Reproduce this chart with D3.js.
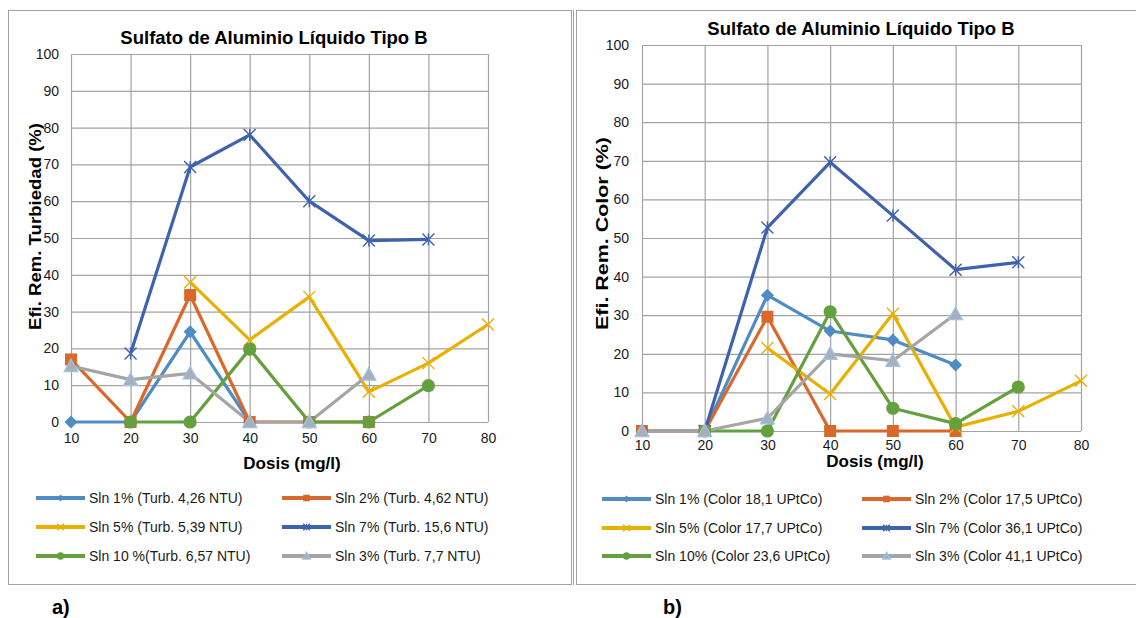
<!DOCTYPE html>
<html>
<head>
<meta charset="utf-8">
<script src="https://cdn.jsdelivr.net/npm/d3@7"></script>
<style>
  html, body { margin: 0; padding: 0; background: #fff; }
  svg { display: block; font-family: "Liberation Sans", Arial, sans-serif; }
</style>
</head>
<body>
<svg id="chart" width="1136" height="618"></svg>
<script>
// ---------- DATA ----------
const doses = [10, 20, 30, 40, 50, 60, 70, 80];
const yTicks = [0, 10, 20, 30, 40, 50, 60, 70, 80, 90, 100];
const chartTitle = "Sulfato de Aluminio Líquido Tipo B";
const xTitle = "Dosis (mg/l)";
const yTitleTurb = "Efi. Rem. Turbiedad (%)";
const yTitleColor = "Efi. Rem. Color (%)";

const seriesKeys = ["sln1", "sln2", "sln5", "sln7", "sln10", "sln3"];
const legendTurb = ["Sln 1% (Turb. 4,26 NTU)", "Sln 2% (Turb. 4,62 NTU)", "Sln 5% (Turb. 5,39 NTU)",
                    "Sln 7% (Turb. 15,6 NTU)", "Sln 10 %(Turb. 6,57 NTU)", "Sln 3% (Turb. 7,7 NTU)"];
const legendColor = ["Sln 1% (Color 18,1 UPtCo)", "Sln 2% (Color 17,5 UPtCo)", "Sln 5% (Color 17,7 UPtCo)",
                     "Sln 7% (Color 36,1 UPtCo)", "Sln 10% (Color 23,6 UPtCo)", "Sln 3% (Color 41,1 UPtCo)"];

// Turbidity removal (%) per dose 10..80 (null = no point)
const turbSln1  = [0, 0, 24.5, 0, null, null, null, null];
const turbSln2  = [17, 0, 34.5, 0, 0, 0, null, null];
const turbSln5  = [null, null, 38, 22.3, 34, 8.2, 16, 26.5];
const turbSln7  = [null, 18.6, 69.3, 78, 60, 49.3, 49.6, null];
const turbSln10 = [null, 0, 0, 19.8, 0, 0, 9.9, null];
const turbSln3  = [15.2, 11.5, 13.2, 0, 0, 12.9, null, null];

// Colour removal (%) per dose 10..80
const colorSln1  = [0, 0, 35.2, 25.9, 23.6, 17.1, null, null];
const colorSln2  = [0, 0, 29.6, 0, 0, 0, null, null];
const colorSln5  = [null, null, 21.5, 9.6, 30.4, 1.0, 5.1, 13];
const colorSln7  = [null, 0, 52.7, 69.6, 55.8, 41.8, 43.7, null];
const colorSln10 = [null, 0, 0, 30.9, 5.9, 1.9, 11.4, null];
const colorSln3  = [0, 0, 3.3, 20, 18.2, 30.3, null, null];

// ---------- STYLE ----------
const styles = {
  sln1:  { color: "#4F8CC6", marker: "diamond" },
  sln2:  { color: "#D8692B", marker: "square" },
  sln5:  { color: "#E8B000", marker: "x" },
  sln7:  { color: "#3F62AE", marker: "star" },
  sln10: { color: "#65A03F", marker: "circle" },
  sln3:  { color: "#A5A5A5", marker: "triangle" }
};
const gridColor = "#A3A3A3";
const frameColor = "#A0A0A0";

const svg = d3.select("#chart");

function drawMarker(g, type, color, cx, cy, s) {
  const k = s || 1;
  if (type === "diamond") {
    const r = 6.5 * k;
    g.append("path").attr("d", `M${cx},${cy - r}L${cx + r},${cy}L${cx},${cy + r}L${cx - r},${cy}Z`).attr("fill", color);
  } else if (type === "square") {
    const h = 6 * k;
    g.append("rect").attr("x", cx - h).attr("y", cy - h).attr("width", 2 * h).attr("height", 2 * h).attr("fill", color);
  } else if (type === "circle") {
    g.append("circle").attr("cx", cx).attr("cy", cy).attr("r", 6.6 * k).attr("fill", color);
  } else if (type === "triangle") {
    const r = 7 * k;
    g.append("path").attr("d", `M${cx},${cy - r}L${cx + r},${cy + r * 0.8}L${cx - r},${cy + r * 0.8}Z`)
      .attr("fill", "#A8AFBA").attr("stroke", "#9DC3E6").attr("stroke-width", 1.2);
  } else if (type === "x" || type === "star") {
    const r = 6 * k;
    g.append("path").attr("d", `M${cx - r},${cy - r}L${cx + r},${cy + r}M${cx - r},${cy + r}L${cx + r},${cy - r}` +
      (type === "star" ? `M${cx},${cy - r}L${cx},${cy + r}` : ""))
      .attr("stroke", color).attr("stroke-width", 1.4).attr("fill", "none");
  }
}

function drawChart(cfg) {
  const g = svg.append("g");
  // frame
  g.append("rect").attr("x", cfg.frame[0] + 0.5).attr("y", cfg.frame[1] + 0.5)
    .attr("width", cfg.frame[2]).attr("height", cfg.frame[3])
    .attr("fill", "#fff").attr("stroke", frameColor).attr("stroke-width", 1);

  const x = d3.scaleLinear().domain([10, 80]).range([cfg.plot.x0, cfg.plot.x1]);
  const y = d3.scaleLinear().domain([0, 100]).range([cfg.plot.y0, cfg.plot.y1]);
  const pw = cfg.plot.x1 - cfg.plot.x0, ph = cfg.plot.y0 - cfg.plot.y1;

  // y axis with gridlines
  const ya = g.append("g").attr("transform", `translate(${cfg.plot.x0},0)`)
    .call(d3.axisLeft(y).tickValues(yTicks).tickSize(-pw).tickPadding(cfg.yPad).tickFormat(d3.format("d")));
  ya.select(".domain").remove();
  ya.selectAll("line").attr("stroke", gridColor).attr("stroke-width", 1.2);
  ya.selectAll("text").attr("font-size", 14).attr("fill", "#1a1a1a").attr("font-family", "Liberation Sans, Arial, sans-serif");

  const xa = g.append("g").attr("transform", `translate(0,${cfg.plot.y0})`)
    .call(d3.axisBottom(x).tickValues(doses).tickSize(-ph).tickPadding(cfg.xPad));
  xa.select(".domain").remove();
  xa.selectAll("line").attr("stroke", gridColor).attr("stroke-width", 1.2);
  xa.selectAll("text").attr("font-size", 14).attr("fill", "#1a1a1a").attr("font-family", "Liberation Sans, Arial, sans-serif");

  // titles
  g.append("text").attr("x", cfg.titlePos[0]).attr("y", cfg.titlePos[1]).attr("text-anchor", "middle")
    .attr("font-size", 18.5).attr("font-weight", "bold").attr("fill", "#000").text(chartTitle);
  g.append("text").attr("x", cfg.xTitlePos[0]).attr("y", cfg.xTitlePos[1]).attr("text-anchor", "middle")
    .attr("font-size", 17).attr("font-weight", "bold").attr("fill", "#000").text(xTitle);
  g.append("text").attr("transform", `translate(${cfg.yTitlePos[0]},${cfg.yTitlePos[1]}) rotate(-90)`)
    .attr("text-anchor", "middle").attr("font-size", 17).attr("font-weight", "bold").attr("fill", "#000")
    .attr("textLength", cfg.yTitleLen).attr("lengthAdjust", "spacingAndGlyphs").text(cfg.yTitle);

  // lines first
  const line = d3.line().defined(d => d.v !== null).x(d => x(d.d)).y(d => y(d.v));
  const seriesData = seriesKeys.map((k, i) => ({ key: k, pts: doses.map((d, j) => ({ d: d, v: cfg.values[i][j] })) }));
  seriesData.forEach(s => {
    g.append("path").datum(s.pts).attr("d", line).attr("fill", "none")
      .attr("stroke", styles[s.key].color).attr("stroke-width", 3.2).attr("stroke-linejoin", "round");
  });
  // markers
  seriesData.forEach(s => {
    const mg = g.append("g");
    s.pts.filter(p => p.v !== null).forEach(p => drawMarker(mg, styles[s.key].marker, styles[s.key].color, x(p.d), y(p.v)));
  });

  // legend
  const lg = g.append("g");
  seriesKeys.forEach((k, i) => {
    const col = i % 2, row = Math.floor(i / 2);
    const lx = cfg.legend.cols[col], ly = cfg.legend.rows[row];
    lg.append("line").attr("x1", lx).attr("x2", lx + 49).attr("y1", ly).attr("y2", ly)
      .attr("stroke", styles[k].color).attr("stroke-width", 3.8);
    drawMarker(lg, styles[k].marker, styles[k].color, lx + 24.5, ly, 0.55);
    lg.append("text").attr("x", lx + 53).attr("y", ly).attr("dy", "0.35em")
      .attr("font-size", 14).attr("fill", "#1a1a1a").text(cfg.legendLabels[i]);
  });

  // panel label
  g.append("text").attr("x", cfg.panelPos[0]).attr("y", cfg.panelPos[1]).attr("font-size", 20)
    .attr("font-weight", "bold").attr("fill", "#000").text(cfg.panel);
}

drawChart({
  frame: [8, 10, 563, 574],
  plot: { x0: 71, x1: 488, y0: 422, y1: 54 },
  yPad: 12, xPad: 11,
  titlePos: [274, 44],
  xTitlePos: [292, 469],
  yTitlePos: [40.5, 226.5],
  yTitleLen: 207,
  yTitle: yTitleTurb,
  values: [turbSln1, turbSln2, turbSln5, turbSln7, turbSln10, turbSln3],
  legend: { cols: [36, 282], rows: [498, 527, 556] },
  legendLabels: legendTurb,
  panel: "a)", panelPos: [52, 614]
});

drawChart({
  frame: [576, 10, 570, 574],
  plot: { x0: 642, x1: 1081, y0: 431, y1: 45 },
  yPad: 13, xPad: 9,
  titlePos: [861, 35],
  xTitlePos: [875, 467],
  yTitlePos: [607.5, 233.5],
  yTitleLen: 193,
  yTitle: yTitleColor,
  values: [colorSln1, colorSln2, colorSln5, colorSln7, colorSln10, colorSln3],
  legend: { cols: [602, 862], rows: [499, 528, 556] },
  legendLabels: legendColor,
  panel: "b)", panelPos: [663, 614]
});
// thin separator line between the panels
svg.append("line").attr("x1", 573.5).attr("x2", 573.5).attr("y1", 10).attr("y2", 585).attr("stroke", frameColor).attr("stroke-width", 1);
</script>
</body>
</html>
